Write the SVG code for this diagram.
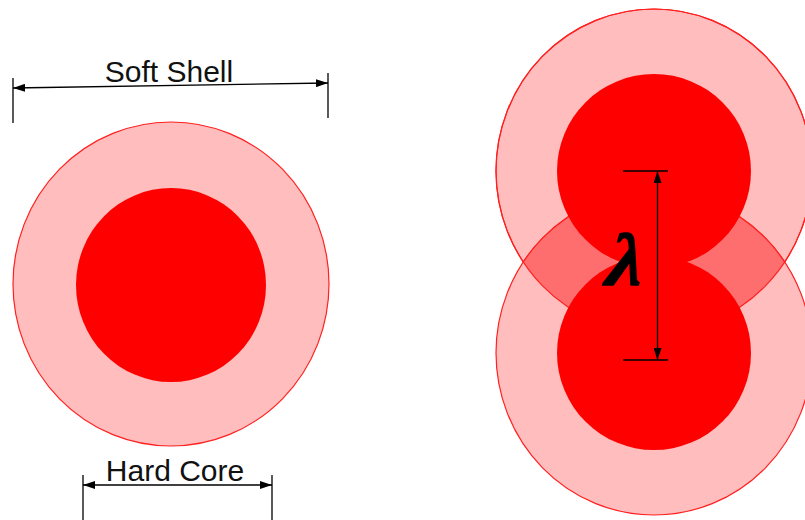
<svg xmlns="http://www.w3.org/2000/svg" width="805" height="520" viewBox="0 0 805 520">
<style>
.shell{fill:#ffbdbd;stroke:#ff2020;stroke-width:1.2}
.core{fill:#ff0000}
.dim{stroke:#000;stroke-width:1.3;fill:none}
.lbl{font-family:"Liberation Sans",Arial,sans-serif;font-size:30px;fill:#111;text-anchor:middle}
</style>
<defs>
<marker id="ah" viewBox="0 0 12 8" refX="12" refY="4" markerWidth="12" markerHeight="8" markerUnits="userSpaceOnUse" orient="auto-start-reverse"><path d="M0,0 L12,4 L0,8 Z" fill="#000"/></marker>
<clipPath id="clipTop"><ellipse cx="654" cy="171" rx="158" ry="162"/></clipPath>
</defs>
<rect width="805" height="520" fill="#fff"/>
<g id="single">
<ellipse class="shell" cx="171" cy="284" rx="158" ry="162"/>
<ellipse class="core" cx="171" cy="285" rx="95" ry="97"/>
</g>
<g id="pair">
<ellipse class="shell" cx="654" cy="171" rx="158" ry="162"/>
<ellipse class="shell" cx="654" cy="353" rx="158" ry="162"/>
<ellipse cx="654" cy="353" rx="158" ry="162" clip-path="url(#clipTop)" fill="#ff6e6e" stroke="#ff2020" stroke-width="1.2"/>
<ellipse cx="654" cy="171" rx="158" ry="162" fill="none" stroke="#ff2020" stroke-width="1.2"/>
<circle class="core" cx="654" cy="171" r="97"/>
<circle class="core" cx="654" cy="353" r="97"/>
</g>
<g id="connectors">
<line class="dim" x1="13" y1="78" x2="13" y2="123"/>
<line class="dim" x1="328" y1="73" x2="328" y2="118"/>
<line class="dim" x1="13" y1="88" x2="328" y2="83" marker-start="url(#ah)" marker-end="url(#ah)"/>
<line class="dim" x1="83" y1="475" x2="83" y2="520"/>
<line class="dim" x1="272" y1="475" x2="272" y2="520"/>
<line class="dim" x1="83" y1="485" x2="272" y2="485" marker-start="url(#ah)" marker-end="url(#ah)"/>
<line class="dim" x1="623" y1="171" x2="668" y2="171"/>
<line class="dim" x1="623" y1="360" x2="668" y2="360"/>
<line class="dim" x1="657.5" y1="171" x2="657.5" y2="360" marker-start="url(#ah)" marker-end="url(#ah)"/>
</g>
<g id="labels">
<text class="lbl" x="169" y="82">Soft Shell</text>
<text class="lbl" x="175" y="481">Hard Core</text>
<text transform="translate(620,285) skewX(-16)" x="0" y="0" font-family="'Liberation Serif','Times New Roman',serif" font-size="74" font-weight="bold" text-anchor="middle" fill="#000" stroke="#000" stroke-width="1.5">λ</text>
</g>
</svg>
